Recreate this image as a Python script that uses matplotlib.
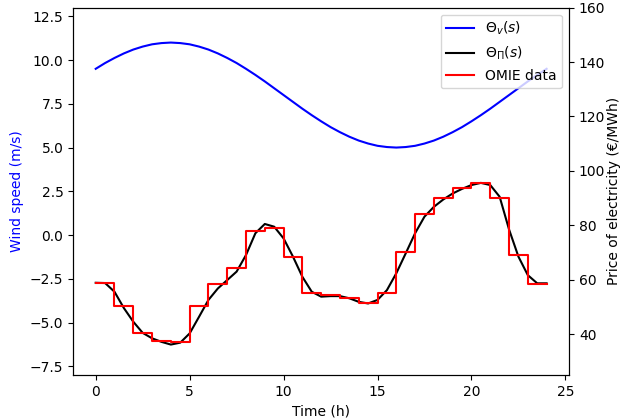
import numpy as np
import matplotlib.pyplot as plt

# wind speed forecast Theta_v(s), every half hour (m/s)
t_wind = np.arange(0, 24.5, 0.5)
wind = [9.50, 9.83, 10.12, 10.38, 10.60, 10.77, 10.90, 10.97, 11.00, 10.97,
        10.90, 10.77, 10.60, 10.38, 10.12, 9.83, 9.50, 9.15, 8.78, 8.39,
        8.00, 7.61, 7.22, 6.85, 6.50, 6.17, 5.88, 5.62, 5.40, 5.23,
        5.10, 5.03, 5.00, 5.03, 5.10, 5.23, 5.40, 5.62, 5.88, 6.17,
        6.50, 6.85, 7.22, 7.61, 8.00, 8.39, 8.78, 9.15, 9.50]

# smooth price curve Theta_Pi(s), every half hour (EUR/MWh)
t_price = np.arange(0, 24.5, 0.5)
price_smooth = [58.9, 58.8, 55.6, 49.6, 44.6, 40.5, 38.5, 37.2, 36.2, 36.9,
                40.3, 46.4, 52.6, 56.8, 59.9, 63.0, 69.1, 77.1, 80.5, 79.5,
                75.2, 68.5, 61.1, 55.6, 53.8, 54.0, 54.0, 53.2, 51.9, 51.3,
                52.6, 56.2, 62.4, 69.7, 77.1, 83.2, 86.8, 89.5, 91.7, 93.4,
                94.8, 95.6, 94.8, 90.5, 78.5, 68.5, 61.7, 58.7, 58.7]

# OMIE hourly prices (EUR/MWh)
hours = np.arange(0, 25)
omie = [58.9, 50.5, 40.3, 37.5, 37.0, 50.3, 58.4, 64.4, 78.0, 79.1,
        68.2, 55.3, 54.4, 53.4, 51.3, 55.2, 70.3, 84.1, 90.0, 93.7,
        95.6, 90.1, 69.1, 58.4]

fig, ax1 = plt.subplots(figsize=(6.2, 4.2), dpi=100)
fig.subplots_adjust(left=0.118, right=0.918, bottom=0.107, top=0.982)

l1, = ax1.plot(t_wind, wind, color='blue', label=r'$\Theta_v(s)$')
ax1.set_ylim(-8, 13)
ax1.set_xlim(-1.2, 25.2)
ax1.set_yticks(np.arange(-7.5, 12.6, 2.5))
ax1.set_ylabel('Wind speed (m/s)', color='blue')
ax1.set_xlabel('Time (h)')

ax2 = ax1.twinx()
l2, = ax2.plot(t_price, price_smooth, color='black', label=r'$\Theta_\Pi(s)$')
l3, = ax2.step(hours, omie + [omie[-1]], where='post', color='red', label='OMIE data')
ax2.set_ylim(25, 160)
ax2.set_ylabel('Price of electricity (€/MWh)', labelpad=1)

ax2.legend(handles=[l1, l2, l3], loc='upper right')

plt.savefig('out.png', dpi=100)
